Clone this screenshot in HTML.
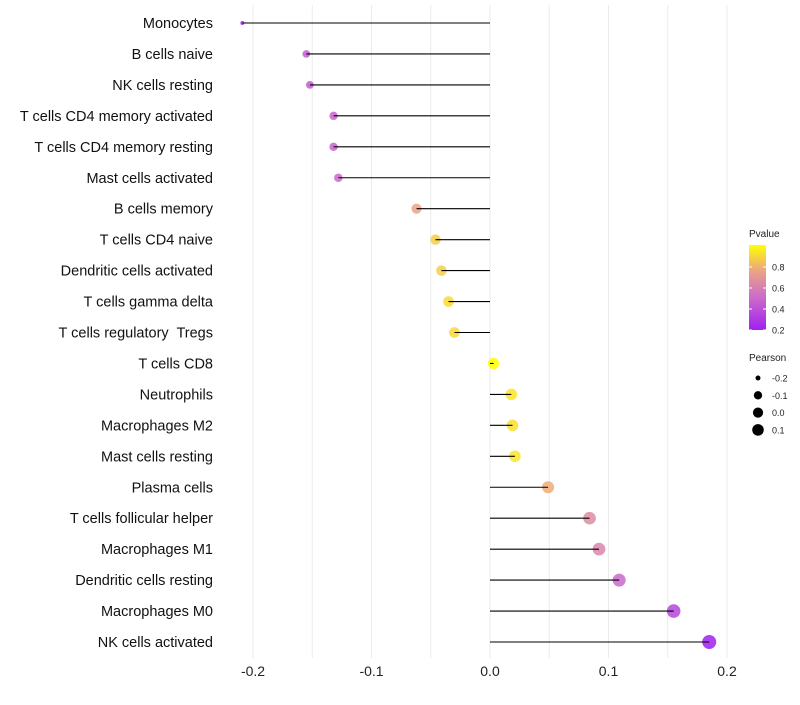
<!DOCTYPE html>
<html><head><meta charset="utf-8"><style>
body{margin:0;background:#fff;font-family:"Liberation Sans",sans-serif}
text{white-space:pre}
</style></head><body>
<svg id="c" width="800" height="700" xmlns="http://www.w3.org/2000/svg"></svg>
<script>
const categories=["Monocytes","B cells naive","NK cells resting","T cells CD4 memory activated","T cells CD4 memory resting","Mast cells activated","B cells memory","T cells CD4 naive","Dendritic cells activated","T cells gamma delta","T cells regulatory  Tregs","T cells CD8","Neutrophils","Macrophages M2","Mast cells resting","Plasma cells","T cells follicular helper","Macrophages M1","Dendritic cells resting","Macrophages M0","NK cells activated"];
const pearson=[-0.209,-0.155,-0.152,-0.132,-0.132,-0.128,-0.062,-0.046,-0.041,-0.035,-0.030,0.003,0.018,0.019,0.021,0.049,0.084,0.092,0.109,0.155,0.185];
const pvalue=[0.22,0.45,0.45,0.48,0.48,0.5,0.75,0.87,0.87,0.9,0.9,1.0,0.93,0.92,0.93,0.78,0.65,0.62,0.5,0.35,0.2];
const xTicks=[-0.2,-0.1,0.0,0.1,0.2];
const xTickLabels=["-0.2","-0.1","0.0","0.1","0.2"];
const colorTicks=[0.2,0.4,0.6,0.8];
const sizeTicks=[-0.2,-0.1,0.0,0.1];

const svg=document.getElementById('c');const NS="http://www.w3.org/2000/svg";
function el(t,a,p){const e=document.createElementNS(NS,t);for(const k in a)e.setAttribute(k,a[k]);(p||svg).appendChild(e);return e;}
const x=v=>490+v*1185;
const y=i=>23+i*30.95;
const pmin=Math.min(...pearson),pmax=Math.max(...pearson);
const r=v=>{const t=Math.max(0,(v-pmin)/(pmax-pmin));return (4+10*Math.sqrt(t))/2;};
function col(p){
  const t=Math.max(0,Math.min(1,(p-0.2)/0.8));
  const stops=[[0,[160,32,240]],[0.4,[205,110,200]],[0.7,[235,165,130]],[1,[255,255,0]]];
  for(let i=1;i<stops.length;i++){if(t<=stops[i][0]){const a=stops[i-1],b=stops[i];const f=(t-a[0])/(b[0]-a[0]);return 'rgb('+a[1].map((c,j)=>Math.round(c+(b[1][j]-c)*f)).join(',')+')';}}
  return 'rgb(255,255,0)';
}
for(let v=-0.2;v<=0.2001;v+=0.05){const g=el('line',{x1:x(v),x2:x(v),y1:5,y2:658,stroke:'#ebebeb','stroke-width':1});

}
xTicks.forEach((v,i)=>{const t=el('text',{x:x(v),y:676,'text-anchor':'middle','font-size':14,fill:'#222'});t.textContent=xTickLabels[i];

});
categories.forEach((c,i)=>{
  const t=el('text',{x:213,y:y(i)+5,'text-anchor':'end','font-size':14.5,fill:'#111'});t.textContent=c;
  
  
  const d=el('circle',{cx:x(pearson[i]),cy:y(i),r:r(pearson[i]),fill:col(pvalue[i]),'fill-opacity':0.85});
  
  
  const l=el('line',{x1:x(0),x2:x(pearson[i]),y1:y(i),y2:y(i),stroke:'#000','stroke-width':1.1});
  
  
});
const lt=el('text',{x:749,y:237,'font-size':10,fill:'#222'});lt.textContent='Pvalue';


const defs=el('defs',{});const lg=el('linearGradient',{id:'g',x1:0,y1:1,x2:0,y2:0},defs);
for(let k=0;k<=10;k++){el('stop',{offset:k/10,'stop-color':col(0.2+0.8*k/10)},lg);}
const cb=el('rect',{x:749,y:245,width:17,height:85,fill:'url(#g)'});


const cy=p=>330-(p-0.2)*105;
colorTicks.forEach(p=>{el('line',{x1:749,x2:752,y1:cy(p),y2:cy(p),stroke:'#fff'});el('line',{x1:763,x2:766,y1:cy(p),y2:cy(p),stroke:'#fff'});
const t=el('text',{x:772,y:cy(p)+3.5,'font-size':9,fill:'#222'});t.textContent=p.toFixed(1);

});
const st=el('text',{x:749,y:361,'font-size':10,fill:'#222'});st.textContent='Pearson';


sizeTicks.forEach((v,i)=>{const yy=378+i*17.3;const c=el('circle',{cx:758,cy:yy,r:r(v)*0.9,fill:'#000'});


const t=el('text',{x:772,y:yy+3.5,'font-size':9,fill:'#222'});t.textContent=v.toFixed(1);

});
</script>
</body></html>
